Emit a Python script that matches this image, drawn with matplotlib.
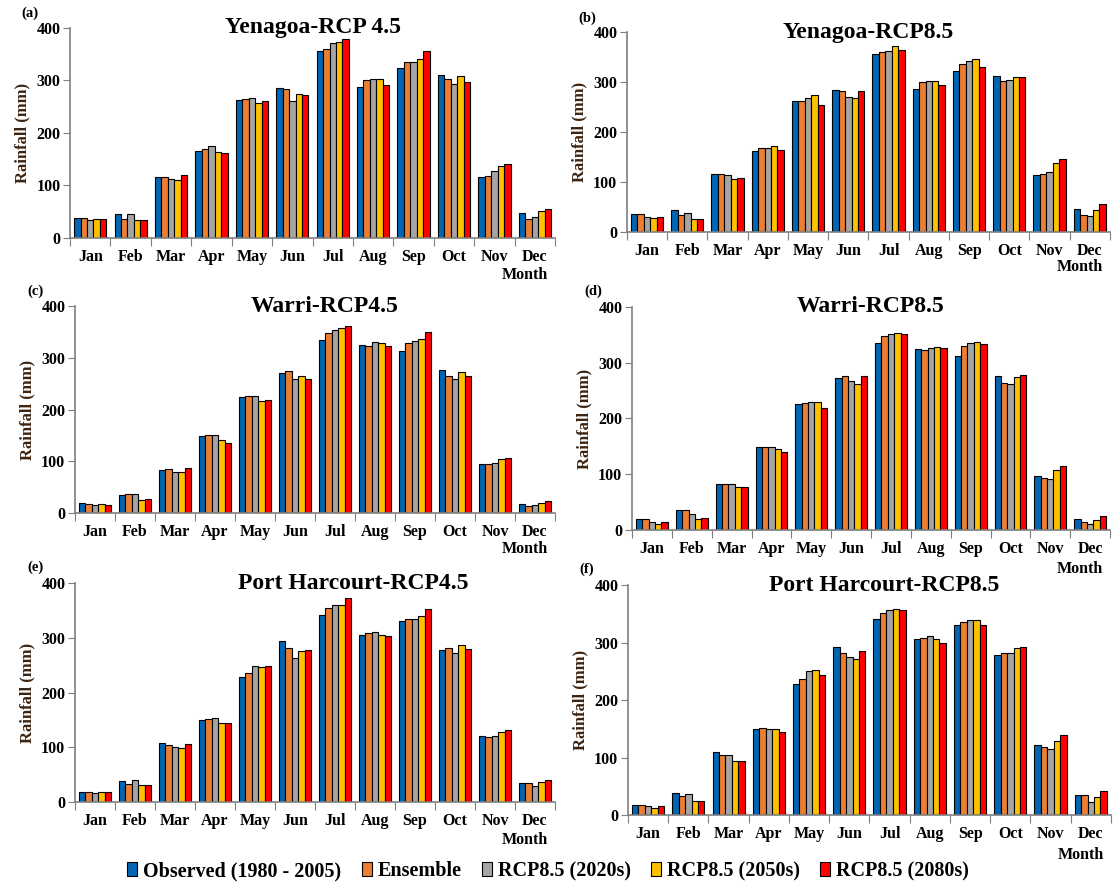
import numpy as np
import matplotlib
matplotlib.use('Agg')
import matplotlib.pyplot as plt
from matplotlib.patches import Patch

plt.rcParams['font.family'] = ['Liberation Serif', 'DejaVu Serif']
plt.rcParams['font.weight'] = 'bold'

months = ['Jan', 'Feb', 'Mar', 'Apr', 'May', 'Jun', 'Jul', 'Aug', 'Sep', 'Oct', 'Nov', 'Dec']
series = ['Observed (1980 - 2005)', 'Ensemble', 'RCP8.5 (2020s)', 'RCP8.5 (2050s)', 'RCP8.5 (2080s)']
colors = ['#0066b3', '#ed7d31', '#a5a5a5', '#ffc000', '#ff0000']

# rows: observed, ensemble, 2020s, 2050s, 2080s
yenagoa_45 = [
    [38, 45, 116, 165, 262, 285, 356, 288, 323, 310, 116, 47],
    [38, 36, 116, 170, 264, 283, 360, 300, 335, 302, 118, 36],
    [35, 45, 112, 175, 266, 260, 371, 302, 335, 294, 128, 40],
    [36, 34, 110, 164, 258, 275, 373, 302, 341, 308, 137, 51],
    [36, 34, 120, 162, 260, 273, 379, 292, 356, 298, 141, 55],
]
yenagoa_85 = [
    [37, 44, 117, 163, 263, 285, 356, 287, 322, 312, 114, 46],
    [37, 35, 117, 169, 263, 283, 360, 300, 336, 302, 117, 35],
    [31, 39, 115, 169, 269, 270, 362, 302, 342, 305, 120, 33],
    [29, 26, 106, 173, 274, 268, 373, 302, 346, 311, 138, 44],
    [31, 26, 108, 165, 254, 283, 365, 294, 331, 311, 147, 57],
]
warri_45 = [
    [20, 34, 83, 148, 225, 270, 335, 324, 314, 277, 94, 18],
    [18, 36, 85, 150, 227, 274, 347, 322, 328, 264, 94, 14],
    [16, 36, 80, 150, 227, 258, 354, 330, 333, 258, 96, 16],
    [18, 25, 80, 141, 217, 265, 358, 328, 337, 272, 104, 20],
    [16, 27, 87, 135, 219, 259, 362, 322, 350, 264, 107, 24],
]
warri_85 = [
    [19, 35, 82, 148, 226, 272, 336, 324, 312, 276, 96, 19],
    [19, 35, 83, 149, 228, 276, 348, 322, 330, 264, 94, 15],
    [15, 29, 83, 148, 230, 268, 352, 326, 336, 262, 92, 11],
    [11, 19, 77, 146, 230, 262, 354, 328, 338, 274, 108, 17],
    [15, 21, 77, 140, 218, 276, 352, 326, 334, 278, 114, 25],
]
portharcourt_45 = [
    [19, 39, 108, 150, 228, 294, 342, 306, 330, 278, 120, 35],
    [19, 33, 104, 152, 236, 282, 354, 308, 334, 282, 118, 35],
    [17, 41, 100, 154, 248, 264, 360, 310, 334, 272, 120, 29],
    [19, 31, 98, 144, 246, 276, 360, 306, 340, 286, 128, 37],
    [19, 31, 106, 144, 248, 278, 372, 304, 352, 280, 132, 41],
]
portharcourt_85 = [
    [18, 38, 109, 150, 227, 292, 341, 306, 331, 279, 121, 34],
    [18, 33, 104, 151, 237, 281, 352, 308, 335, 282, 119, 34],
    [15, 36, 104, 150, 250, 275, 356, 312, 340, 282, 115, 22],
    [13, 25, 94, 150, 253, 271, 359, 306, 340, 290, 128, 32],
    [15, 25, 94, 144, 244, 286, 356, 300, 331, 292, 140, 42],
]

panels = [
    ('(a)', 'Yenagoa-RCP 4.5', yenagoa_45, [0.0626, 0.7320, 0.4334, 0.2365], 0.0),
    ('(b)', 'Yenagoa-RCP8.5', yenagoa_85, [0.5603, 0.7387, 0.4316, 0.2252], 0.0),
    ('(c)', 'Warri-RCP4.5', warri_45, [0.0670, 0.4223, 0.4290, 0.2331], 0.02),
    ('(d)', 'Warri-RCP8.5', warri_85, [0.5648, 0.4032, 0.4272, 0.2511], 0.0),
    ('(e)', 'Port Harcourt-RCP4.5', portharcourt_45, [0.0670, 0.0968, 0.4290, 0.2466], 0.08),
    ('(f)', 'Port Harcourt-RCP8.5', portharcourt_85, [0.5612, 0.0822, 0.4316, 0.2590], 0.03),
]

fig = plt.figure(figsize=(11.19, 8.88), dpi=100)

x = np.arange(len(months))
w = 0.16
spine_col = '#7f7f7f'

for tag, title, data, pos, dx in panels:
    ax = fig.add_axes(pos)
    for i, vals in enumerate(data):
        ax.bar(x + (i - 2) * w, vals, width=w, color=colors[i],
               edgecolor='black', linewidth=0.8)
    ax.set_xlim(-0.5, 11.5)
    ax.set_ylim(0, 400)
    ax.set_yticks([0, 100, 200, 300, 400])
    ax.set_xticks(np.arange(-0.5, 12, 1))
    ax.set_xticklabels([])
    ax.set_xticks(x, minor=True)
    ax.set_xticklabels(months, minor=True)
    ax.tick_params(axis='x', which='major', length=6, color=spine_col, direction='out')
    ax.tick_params(axis='x', which='minor', length=0, pad=8, labelsize=11.5)
    ax.tick_params(axis='y', length=5, color=spine_col, labelsize=11.5, pad=2)
    for lab in ax.get_xticklabels(minor=True) + ax.get_yticklabels():
        lab.set_fontweight('bold')
    for s in ['top', 'right']:
        ax.spines[s].set_visible(False)
    for s in ['left', 'bottom']:
        ax.spines[s].set_color(spine_col)
        ax.spines[s].set_linewidth(1.2)
    ax.set_ylabel('Rainfall (mm)', color='#3d2410', fontsize=12, fontweight='bold', labelpad=4)
    ax.text(0.5 + dx, 1.0, title, transform=ax.transAxes, ha='center', va='center',
            fontsize=17, fontweight='bold')
    ax.text(-0.1, 1.07, tag, transform=ax.transAxes, ha='left', va='center',
            fontsize=10.5, fontweight='bold')
    ax.text(0.985, -0.175, 'Month', transform=ax.transAxes, ha='right', va='center',
            fontsize=11.5, fontweight='bold')

handles = [Patch(facecolor=c, edgecolor='black', linewidth=0.8) for c in colors]
fig.legend(handles, series, loc='center', bbox_to_anchor=(0.49, 1 - 871 / 888), ncol=5,
           frameon=False, handlelength=0.5, handleheight=0.7, handletextpad=0.3,
           columnspacing=1.0, prop={'family': 'Liberation Serif', 'weight': 'bold', 'size': 14.5})

fig.savefig('out.png', dpi=100)
